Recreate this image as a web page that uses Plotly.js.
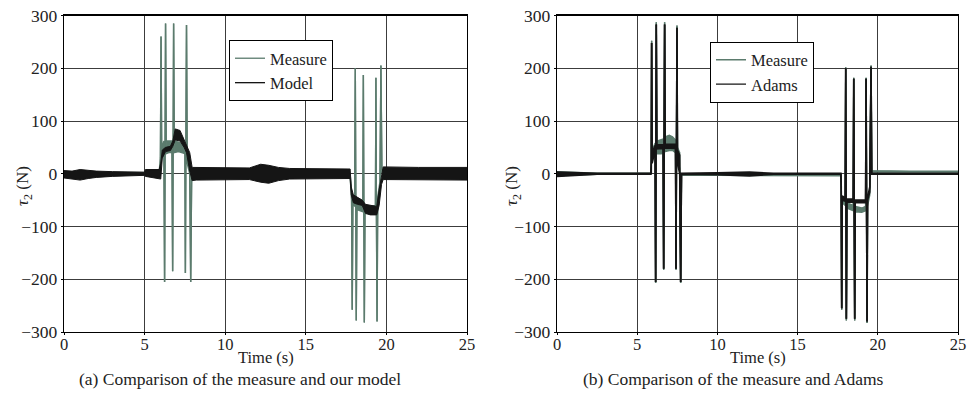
<!DOCTYPE html>
<html>
<head>
<meta charset="utf-8">
<script src="https://cdn.plot.ly/plotly-3.0.1.min.js"></script>
<style>html,body{margin:0;padding:0;background:#fff;}#chart{width:968px;height:413px;}</style>
</head>
<body>
<div id="chart"></div>
<script>
// ---------- (a) measure vs our model ----------
const tMeasA   = [0,2,3,5,5.9,5.98,6.02,6.06,6.2,6.24,6.27,6.3,6.34,6.5,6.7,6.74,6.77,6.8,6.84,7.1,7.5,7.53,7.56,7.6,7.64,7.8,7.86,7.92,10,12,13,15,17.75,17.84,17.88,17.92,18.03,18.07,18.1,18.13,18.17,18.4,18.54,18.57,18.6,18.63,18.67,19.0,19.32,19.35,19.38,19.42,19.46,19.6,19.66,19.72,22,25];
const measUpA  = [3,3,2,2,2,30,260,50,62,-205,58,285,62,62,62,-185,62,285,62,60,55,-188,52,282,40,20,-205,0,-1,0,0,-1,-1,-35,-258,-40,-50,200,-50,-278,-55,-55,-58,187,-58,-282,-60,-62,-60,182,-58,-280,-45,-15,205,8,7,7];
const measLoA  = [-3,-4,-2,-2,-2,10,260,30,38,-205,35,285,38,40,40,-185,40,285,40,42,38,-188,35,282,20,0,-205,-4,-4,-3,-3,-4,-5,-50,-258,-55,-62,200,-62,-278,-68,-70,-72,187,-72,-282,-75,-76,-74,182,-72,-280,-60,-30,205,2,2,2];

const tModelA  = [0,0.5,1,1.5,2,3,4,5,5.05,5.9,6.0,6.1,6.3,6.6,6.75,6.9,7.2,7.45,7.6,7.8,7.95,8.2,10,11.5,12.2,12.7,13.3,14,17.75,17.82,17.95,18.2,18.5,18.7,19.0,19.4,19.55,19.7,19.8,22,25];
const modelUpA = [6,5,8,6,5,4,3,3,8,8,20,45,50,52,62,85,82,65,55,40,12,12,11,11,18,16,12,10,9,-25,-40,-45,-50,-58,-60,-62,-30,-5,13,12,12];
const modelLoA = [-8,-10,-12,-9,-7,-5,-4,-3,-5,-9,-10,30,42,44,52,64,62,50,40,5,-13,-12,-12,-11,-16,-18,-13,-10,-9,-40,-55,-58,-60,-75,-78,-78,-60,-20,-11,-11,-12];

// ---------- (b) measure vs Adams ----------
const tB       = [0,1,2.5,5.85,5.88,5.9,5.93,6.12,6.15,6.17,6.19,6.22,6.5,6.62,6.65,6.68,6.71,6.74,7.0,7.2,7.39,7.42,7.45,7.48,7.51,7.65,7.71,7.76,10,12,13.5,17.7,17.72,17.75,17.78,17.97,18.0,18.02,18.04,18.07,18.3,18.47,18.5,18.53,18.56,18.59,19.0,19.24,19.27,19.3,19.33,19.36,19.5,19.58,19.62,22,25];
const measUpB  = [4,3,1,1,20,252,45,58,-207,60,287,62,64,66,-182,66,287,70,73,70,64,-182,62,281,50,40,-207,0,-1,-1,-2,-2,-30,-258,-45,-50,202,-50,-278,-55,-58,-60,182,-60,-278,-62,-65,-62,182,-62,-283,-55,-30,205,6,5,5];
const measLoB  = [-4,-3,-1,-1,10,252,30,36,-207,36,287,38,38,40,-182,40,287,42,44,44,40,-182,38,281,30,10,-207,-3,-3,-3,-4,-4,-40,-258,-55,-60,202,-62,-278,-65,-68,-70,182,-72,-278,-72,-73,-70,182,-70,-283,-62,-40,205,3,3,3];
const adamsUpB = [3,2,1,1,25,248,40,54,-205,54,283,55,55,55,-180,55,283,56,56,56,56,-180,55,277,45,35,-205,1,2,3,1,1,-20,-255,-42,-46,200,-46,-275,-48,-48,-48,180,-48,-275,-50,-50,-50,180,-50,-280,-45,-25,203,1,1,1];
const adamsLoB = [-5,-3,-1,-1,0,248,20,44,-205,44,283,47,47,48,-180,48,283,49,49,49,48,-180,46,277,20,0,-205,-1,-2,-4,-1,-1,-30,-255,-50,-52,200,-52,-275,-54,-54,-54,180,-54,-275,-55,-55,-55,180,-55,-280,-50,-35,203,-1,-1,-1];

const seriesNamesA = ['Measure','Model'];
const seriesNamesB = ['Measure','Adams'];
const captions = ['(a) Comparison of the measure and our model','(b) Comparison of the measure and Adams'];
const xTitle = 'Time (s)';
const yTitle = '<i>τ</i><sub>2</sub> (N)';
const xTickVals = [0,5,10,15,20,25];
const yTickVals = [-300,-200,-100,0,100,200,300];

const GREEN = '#5b7b6d';
const BLACK = '#151515';
const FONT = 'Liberation Serif, DejaVu Serif, serif';
const TXT = '#222';

function band(t, lo, up, color, w, xa, ya) {
  return [
    {x: t, y: lo, xaxis: xa, yaxis: ya, type: 'scatter', mode: 'lines',
     line: {color: color, width: w}, showlegend: false, hoverinfo: 'skip'},
    {x: t, y: up, xaxis: xa, yaxis: ya, type: 'scatter', mode: 'lines', fill: 'tonexty',
     fillcolor: color, line: {color: color, width: w}, showlegend: false, hoverinfo: 'skip'}
  ];
}
function legendItem(name, color, leg, xa, ya) {
  return {x: [null], y: [null], xaxis: xa, yaxis: ya, type: 'scatter', mode: 'lines',
          name: name, line: {color: color, width: 1.3}, legend: leg};
}

const data = [
  legendItem(seriesNamesA[0], GREEN, 'legend', 'x', 'y'),
  legendItem(seriesNamesA[1], BLACK, 'legend', 'x', 'y'),
  legendItem(seriesNamesB[0], GREEN, 'legend2', 'x2', 'y2'),
  legendItem(seriesNamesB[1], BLACK, 'legend2', 'x2', 'y2'),
  ...band(tMeasA, measLoA, measUpA, GREEN, 1.4, 'x', 'y'),
  ...band(tModelA, modelLoA, modelUpA, BLACK, 1.0, 'x', 'y'),
  ...band(tB, measLoB, measUpB, GREEN, 1.4, 'x2', 'y2'),
  ...band(tB, adamsLoB, adamsUpB, BLACK, 1.6, 'x2', 'y2')
];

function xax(domain, anchor) {
  return {domain: domain, anchor: anchor, range: [0, 25], tickvals: xTickVals,
    showgrid: true, gridcolor: '#3c3c3c', gridwidth: 1, zeroline: false,
    showline: true, mirror: true, linecolor: '#000', linewidth: 1.2,
    ticks: 'outside', ticklen: 2, tickcolor: '#000', ticklabelstandoff: -5,
    tickfont: {family: FONT, size: 16.5, color: TXT}};
}
function yax(domain, anchor) {
  return {domain: domain, anchor: anchor, range: [-300, 300], tickvals: yTickVals,
    showgrid: true, gridcolor: '#3c3c3c', gridwidth: 1, zeroline: false,
    showline: true, mirror: true, linecolor: '#000', linewidth: 1.2,
    ticks: 'outside', ticklen: 2, tickcolor: '#000',
    tickfont: {family: FONT, size: 17.5, color: TXT}};
}
const yDom = [1 - 332/413, 1 - 15.5/413];
const legendBase = {bgcolor: '#fff', bordercolor: '#000', borderwidth: 1,
  font: {family: FONT, size: 16.5, color: TXT}, xanchor: 'left', yanchor: 'top',
  xref: 'paper', yref: 'paper', traceorder: 'normal', tracegroupgap: 0};

function ann(text, x, y, size, angle) {
  return {text: text, xref: 'paper', yref: 'paper', x: x, y: y, showarrow: false,
    xanchor: 'center', yanchor: 'middle', textangle: angle || 0,
    font: {family: FONT, size: size, color: TXT}};
}

const layout = {
  width: 968, height: 413,
  margin: {l: 0, r: 0, t: 0, b: 0},
  paper_bgcolor: '#fff', plot_bgcolor: '#fff',
  showlegend: true,
  xaxis: xax([64/968, 467/968], 'y'),
  yaxis: yax(yDom, 'x'),
  xaxis2: xax([557/968, 958/968], 'y2'),
  yaxis2: yax(yDom, 'x2'),
  legend: Object.assign({}, legendBase, {x: 229/968, y: 1 - 40/413}),
  legend2: Object.assign({}, legendBase, {x: 710/968, y: 1 - 41.5/413}),
  annotations: [
    ann(xTitle, 265.5/968, 1 - 357/413, 16.5),
    ann(xTitle, 757.5/968, 1 - 357/413, 16.5),
    ann(yTitle, 24/968, 1 - 186/413, 17, -90),
    ann(yTitle, 513/968, 1 - 186/413, 17, -90),
    ann(captions[0], 240/968, 1 - 379/413, 17.5),
    ann(captions[1], 733/968, 1 - 379/413, 17.5)
  ]
};

Plotly.newPlot('chart', data, layout, {displayModeBar: false, staticPlot: true});
</script>
</body>
</html>
